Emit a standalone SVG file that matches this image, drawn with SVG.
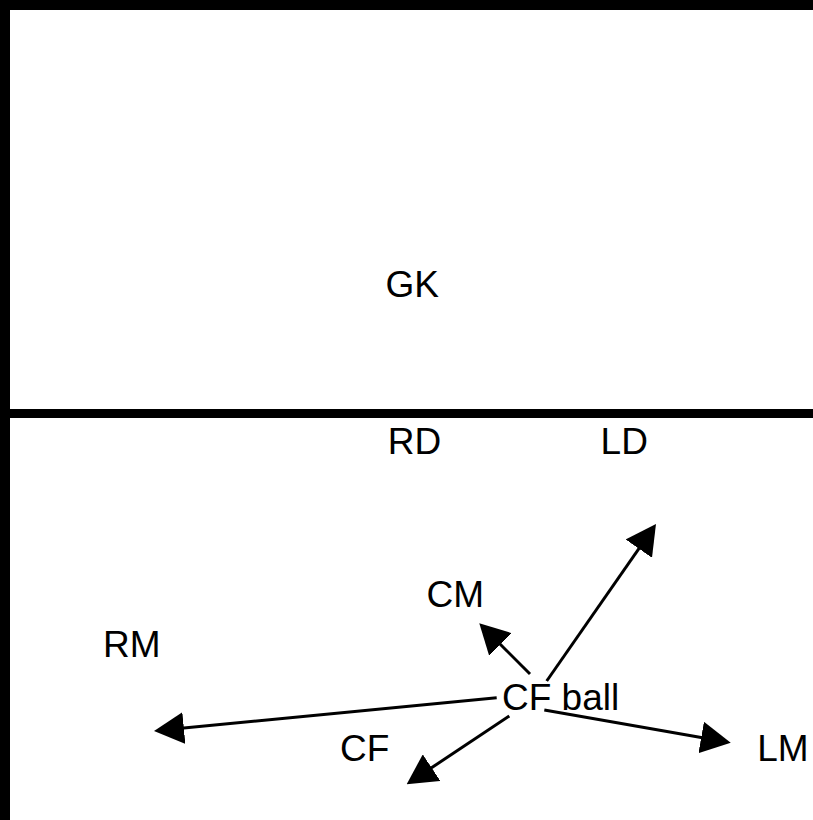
<svg xmlns="http://www.w3.org/2000/svg" width="813" height="820" viewBox="0 0 813 820">
<defs>
<style>
.lbl{font-family:"Liberation Sans",Arial,sans-serif;font-size:37px;fill:#000}
.con{stroke:#000;stroke-width:3;fill:none}
</style>
<marker id="ah" viewBox="0 0 30 32" refX="26" refY="16" markerWidth="30" markerHeight="32" markerUnits="userSpaceOnUse" orient="auto">
<path d="M0,0 L30,16 L0,32 z" fill="#000"/>
</marker>
</defs>
<rect width="813" height="820" fill="#fff"/>
<g id="field">
<rect x="0" y="0" width="813" height="10" fill="#000"/>
<rect x="0" y="0" width="10" height="820" fill="#000"/>
<rect x="0" y="409" width="813" height="9" fill="#000"/>
</g>
<g id="connectors">
<line class="con" x1="496.7" y1="697.7" x2="158" y2="730.6" marker-end="url(#ah)"/>
<line class="con" x1="530" y1="674" x2="482.1" y2="626.1" marker-end="url(#ah)"/>
<line class="con" x1="546.7" y1="681" x2="653.7" y2="527.3" marker-end="url(#ah)"/>
<line class="con" x1="509.3" y1="716" x2="410" y2="782.1" marker-end="url(#ah)"/>
<line class="con" x1="544.3" y1="710" x2="726.8" y2="742" marker-end="url(#ah)"/>
</g>
<g id="GK"><text class="lbl" x="385.5" y="297">GK</text></g>
<g id="RD"><text class="lbl" x="387.7" y="454">RD</text></g>
<g id="LD"><text class="lbl" x="600.6" y="454">LD</text></g>
<g id="CM"><text class="lbl" x="426.5" y="607">CM</text></g>
<g id="RM"><text class="lbl" x="103" y="657">RM</text></g>
<g id="CFball"><text class="lbl" x="502" y="710">CF ball</text></g>
<g id="CF"><text class="lbl" x="340" y="761">CF</text></g>
<g id="LM"><text class="lbl" x="757.3" y="761">LM</text></g>
</svg>
